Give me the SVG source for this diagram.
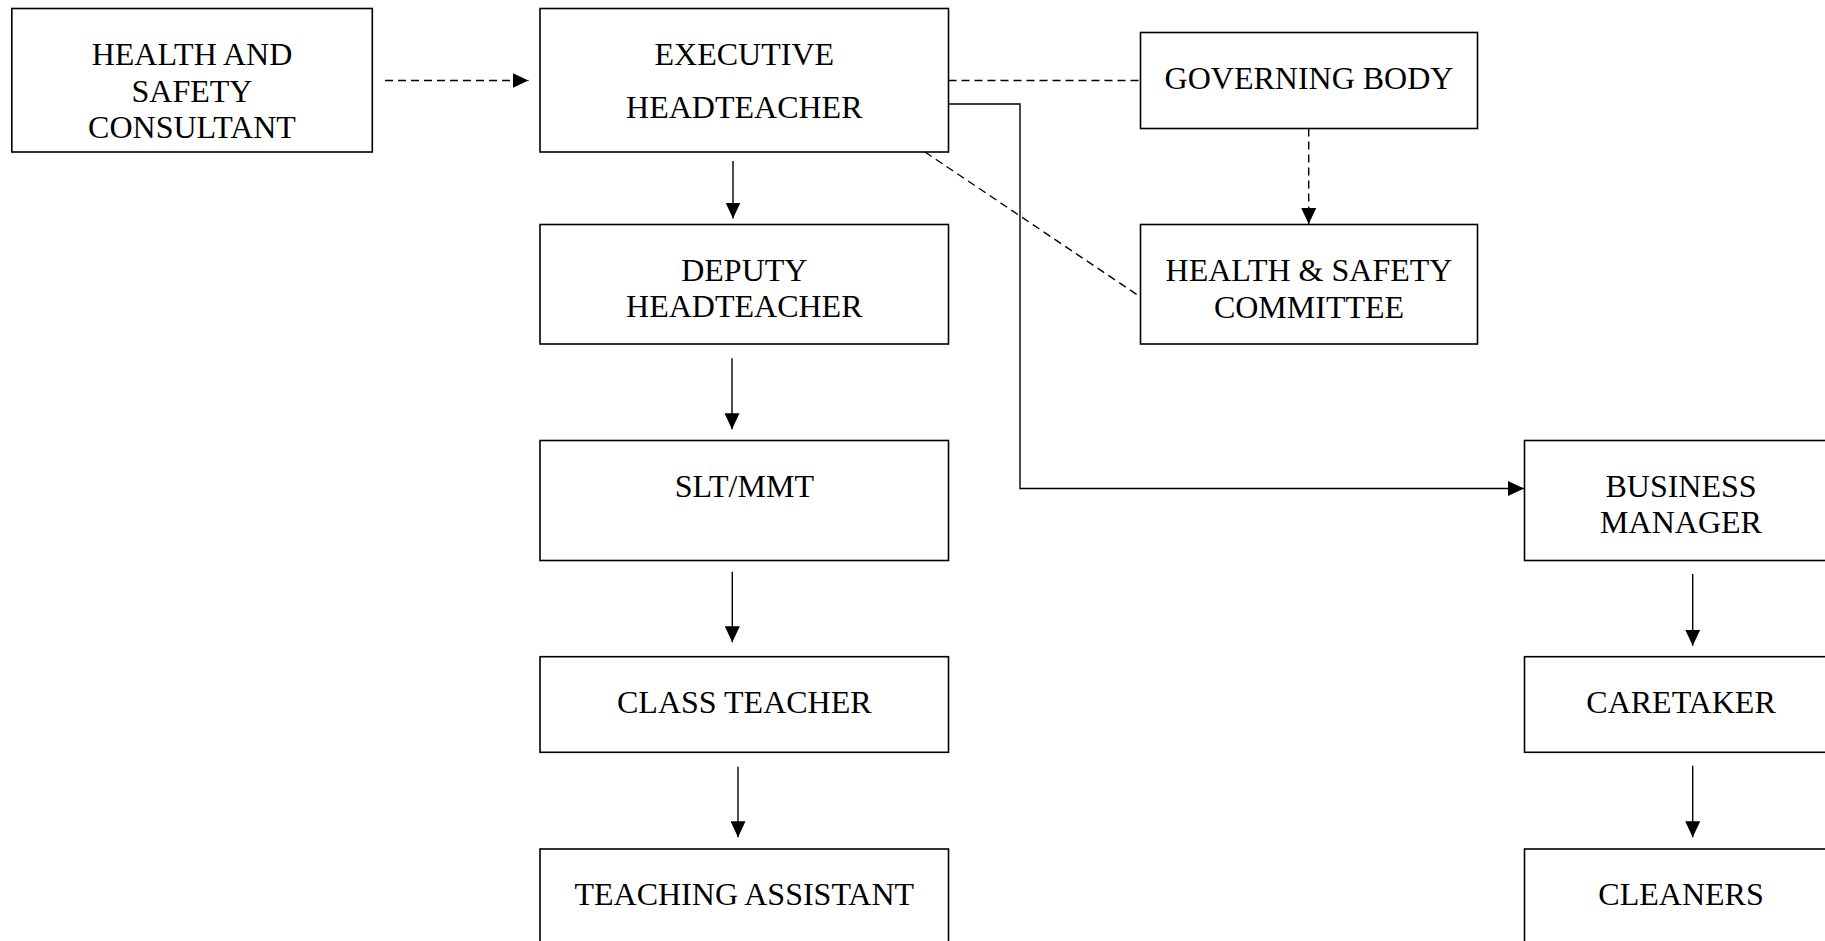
<svg xmlns="http://www.w3.org/2000/svg" width="1825" height="941" viewBox="0 0 1825 941">
<defs>
<style>
.box{fill:#fff;stroke:#000;stroke-width:1.6}
.t{font-family:"Liberation Serif","Times New Roman",serif;font-size:32px;fill:#000;text-anchor:middle}
.ln{fill:none;stroke:#000;stroke-width:1.4}
.dash{stroke-dasharray:8,5}
</style>
<marker id="ah" markerUnits="userSpaceOnUse" markerWidth="16" markerHeight="15" refX="16" refY="7.5" orient="auto">
<path d="M0,0 L16,7.5 L0,15 z" fill="#000"/>
</marker>
</defs>
<rect width="1825" height="941" fill="#fff"/>
<g id="connectors">
<line class="ln dash" x1="385" y1="80.5" x2="528.5" y2="80.5" marker-end="url(#ah)"/>
<line class="ln dash" x1="948.5" y1="80.5" x2="1140.5" y2="80.5"/>
<polyline class="ln" points="948.5,104 1020,104 1020,488.5 1524,488.5" marker-end="url(#ah)"/>
<line class="ln dash" x1="925" y1="152" x2="1140.5" y2="297"/>
<line class="ln dash" x1="1308.7" y1="128.5" x2="1308.7" y2="224" marker-end="url(#ah)"/>
<line class="ln" x1="733" y1="161" x2="733" y2="218.5" marker-end="url(#ah)"/>
<line class="ln" x1="732" y1="358.3" x2="732" y2="429.3" marker-end="url(#ah)"/>
<line class="ln" x1="732.3" y1="571.7" x2="732.3" y2="642.3" marker-end="url(#ah)"/>
<line class="ln" x1="738" y1="766.7" x2="738" y2="837.3" marker-end="url(#ah)"/>
<line class="ln" x1="1692.7" y1="574" x2="1692.7" y2="645.7" marker-end="url(#ah)"/>
<line class="ln" x1="1692.7" y1="765.7" x2="1692.7" y2="837.3" marker-end="url(#ah)"/>
</g>
<g id="hs-consultant">
<rect class="box" x="11.8" y="8.5" width="360.5" height="143.5"/>
<text class="t" x="192" y="65">HEALTH AND</text>
<text class="t" x="192" y="101.7">SAFETY</text>
<text class="t" x="192" y="138.3">CONSULTANT</text>
</g>
<g id="exec-headteacher">
<rect class="box" x="540" y="8.5" width="408.5" height="143.5"/>
<text class="t" x="744.3" y="65">EXECUTIVE</text>
<text class="t" x="744.3" y="118.3">HEADTEACHER</text>
</g>
<g id="governing-body">
<rect class="box" x="1140.5" y="32.5" width="337" height="96"/>
<text class="t" x="1309" y="89">GOVERNING BODY</text>
</g>
<g id="hs-committee">
<rect class="box" x="1140.5" y="224.5" width="337" height="119.5"/>
<text class="t" x="1309" y="281">HEALTH &amp; SAFETY</text>
<text class="t" x="1309" y="317.7">COMMITTEE</text>
</g>
<g id="deputy-headteacher">
<rect class="box" x="540" y="224.5" width="408.5" height="119.5"/>
<text class="t" x="744.3" y="281.3">DEPUTY</text>
<text class="t" x="744.3" y="317">HEADTEACHER</text>
</g>
<g id="slt-mmt">
<rect class="box" x="540" y="440.5" width="408.5" height="120"/>
<text class="t" x="744.3" y="497">SLT/MMT</text>
</g>
<g id="class-teacher">
<rect class="box" x="540" y="656.7" width="408.5" height="95.6"/>
<text class="t" x="744.3" y="712.7">CLASS TEACHER</text>
</g>
<g id="teaching-assistant">
<rect class="box" x="540" y="849" width="408.5" height="120"/>
<text class="t" x="744.3" y="905">TEACHING ASSISTANT</text>
</g>
<g id="business-manager">
<rect class="box" x="1524.5" y="440.5" width="313" height="120"/>
<text class="t" x="1681" y="496.7">BUSINESS</text>
<text class="t" x="1681" y="533.3">MANAGER</text>
</g>
<g id="caretaker">
<rect class="box" x="1524.5" y="656.7" width="313" height="95.6"/>
<text class="t" x="1681" y="712.7">CARETAKER</text>
</g>
<g id="cleaners">
<rect class="box" x="1524.5" y="849" width="313" height="120"/>
<text class="t" x="1681" y="905">CLEANERS</text>
</g>
</svg>
